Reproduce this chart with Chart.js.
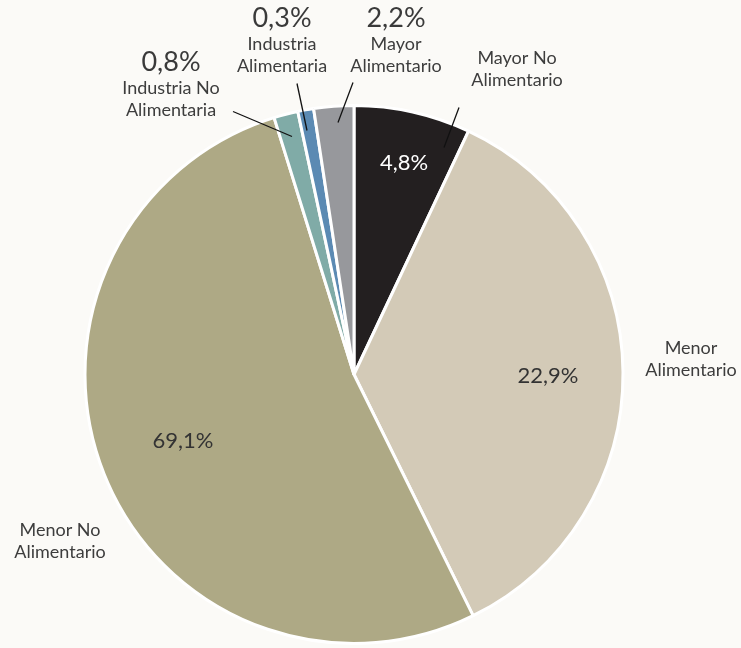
<!DOCTYPE html>
<html>
<head>
<meta charset="utf-8">
<script src="https://cdn.jsdelivr.net/npm/chart.js@4"></script>
<style>
  html, body { margin: 0; padding: 0; background: #fbfaf7; }
  #wrap { width: 741px; height: 648px; }
</style>
</head>
<body>
<div id="wrap"><canvas id="pieChart" width="741" height="648"></canvas></div>
<script>
// categorías y valores (tamaño de cada porción)
var categorias = ['Mayor No Alimentario', 'Menor Alimentario', 'Menor No Alimentario',
                  'Industria No Alimentaria', 'Industria Alimentaria', 'Mayor Alimentario'];
var valores = [7.0, 35.7, 52.5, 1.45, 0.95, 2.4];
var etiquetas = ['4,8%', '22,9%', '69,1%', '0,8%', '0,3%', '2,2%'];
var colores = ['#231f20', '#d3cab7', '#aea985', '#80aba7', '#5b8ab3', '#97989c'];

// posición de los textos respecto al centro (px)
var layout = [
    { nombre: ['Mayor No', 'Alimentario'], nx: 163, ny: -316, pct: 'in', px: 50, py: -212, pc: '#ffffff',
      linea: [105, -267, 90, -227] },
    { nombre: ['Menor', 'Alimentario'], nx: 337, ny: -26, pct: 'in', px: 194, py: 1, pc: '#333333' },
    { nombre: ['Menor No', 'Alimentario'], nx: -294, ny: 156, pct: 'in', px: -171, py: 66, pc: '#333333' },
    { nombre: ['Industria No', 'Alimentaria'], nx: -183, ny: -286, pct: 'out', px: -183, py: -312,
      linea: [-121, -263, -62, -238] },
    { nombre: ['Industria', 'Alimentaria'], nx: -72, ny: -330, pct: 'out', px: -72, py: -356,
      linea: [-57, -291, -47, -244] },
    { nombre: ['Mayor', 'Alimentario'], nx: 42, ny: -330, pct: 'out', px: 42, py: -356,
      linea: [-1, -292, -16, -252] }
];

var textos = {
    id: 'textos',
    afterDatasetsDraw: function (chart) {
        var ctx = chart.ctx;
        var arc = chart.getDatasetMeta(0).data[0];
        var cx = arc.x, cy = arc.y;
        ctx.save();
        ctx.textAlign = 'center';
        ctx.textBaseline = 'middle';
        layout.forEach(function (l, i) {
            if (l.linea) {
                ctx.strokeStyle = '#111';
                ctx.lineWidth = 1.3;
                ctx.beginPath();
                ctx.moveTo(cx + l.linea[0], cy + l.linea[1]);
                ctx.lineTo(cx + l.linea[2], cy + l.linea[3]);
                ctx.stroke();
            }
            ctx.fillStyle = '#3d3d3d';
            ctx.font = '18px Lato';
            l.nombre.forEach(function (t, k) {
                ctx.fillText(t, cx + l.nx, cy + l.ny + k * 22);
            });
            if (l.pct === 'in') {
                ctx.fillStyle = l.pc;
                ctx.font = '22px Lato';
            } else {
                ctx.fillStyle = '#3a3a3a';
                ctx.font = '27px Lato';
            }
            ctx.fillText(etiquetas[i], cx + l.px, cy + l.py);
        });
        ctx.restore();
    }
};

var data = {
    labels: categorias,
    datasets: [{
        data: valores,
        backgroundColor: colores,
        borderColor: '#ffffff',
        borderWidth: 3
    }]
};

var config = {
    type: 'pie',
    data: data,
    options: {
        responsive: false,
        animation: false,
        layout: { padding: { top: 104, bottom: 3, left: 0, right: 33 } },
        plugins: {
            legend: { display: false },
            tooltip: { enabled: false }
        }
    },
    plugins: [textos]
};

var pieChart = new Chart(document.getElementById('pieChart'), config);
</script>
</body>
</html>
